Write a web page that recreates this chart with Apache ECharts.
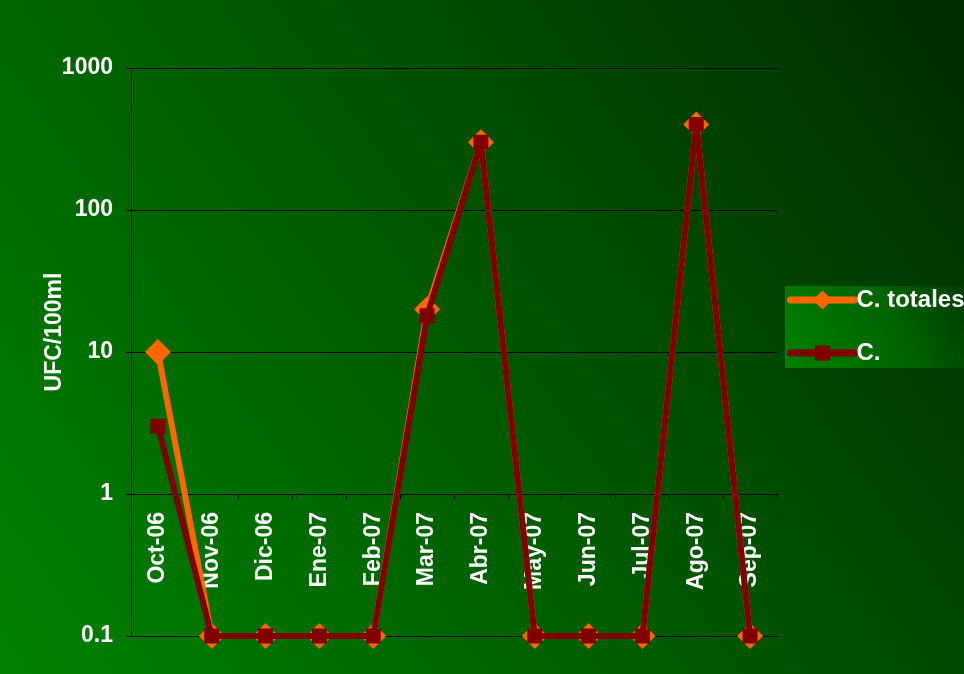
<!DOCTYPE html>
<html>
<head>
<meta charset="utf-8">
<script src="https://cdn.jsdelivr.net/npm/echarts@6/dist/echarts.min.js"></script>
<style>
html,body{margin:0;padding:0;background:#004000;}
#chart{width:964px;height:674px;}
</style>
</head>
<body>
<div id="chart"></div>
<script>
const categories = ['Oct-06','Nov-06','Dic-06','Ene-07','Feb-07','Mar-07','Abr-07','May-07','Jun-07','Jul-07','Ago-07','Sep-07'];
const totales = [10, 0.1, 0.1, 0.1, 0.1, 20, 300, 0.1, 0.1, 0.1, 400, 0.1];
const fecales = [3, 0.1, 0.1, 0.1, 0.1, 18, 300, 0.1, 0.1, 0.1, 400, 0.1];
const seriesNames = ['C. totales', 'C.'];
const yAxisName = 'UFC/100ml';

const chart = echarts.init(document.getElementById('chart'), null, {renderer: 'canvas'});
const font = 'Liberation Sans, Arial, sans-serif';
const legendText = {color: '#ffffff', fontSize: 24, fontWeight: 'bold', fontFamily: font, padding: [0,0,0,-3]};
chart.setOption({
  animation: false,
  backgroundColor: new echarts.graphic.LinearGradient(0, 1, 1, 0, [
    {offset: 0, color: '#008200'},
    {offset: 0.5, color: '#005800'},
    {offset: 1, color: '#002c00'}
  ]),
  graphic: [{
    type: 'rect', left: 785, top: 286, z: -1,
    shape: {width: 179, height: 82},
    style: {fill: new echarts.graphic.LinearGradient(0, 1, 1, 0, [
      {offset: 0, color: '#008000'},
      {offset: 0.6, color: '#006400'},
      {offset: 1, color: '#003c00'}
    ])}
  }],
  grid: {left: 131, right: 187, top: 68, bottom: 38, containLabel: false},
  legend: [
    {
      left: 787, top: 288,
      padding: 0,
      itemWidth: 64, itemHeight: 24,
      lineStyle: {width: 7, cap: 'round'},
      textStyle: legendText,
      data: [seriesNames[0]]
    },
    {
      left: 787, top: 341,
      padding: 0,
      itemWidth: 64, itemHeight: 19,
      lineStyle: {width: 7, cap: 'round'},
      textStyle: legendText,
      data: [seriesNames[1]]
    }
  ],
  xAxis: {
    type: 'category',
    data: categories,
    boundaryGap: true,
    position: 'bottom',
    offset: -142,
    axisLine: {show: true, lineStyle: {color: '#000000', width: 1}},
    axisTick: {show: true, length: 5, lineStyle: {color: '#000000'}},
    axisLabel: {rotate: 90, margin: 18, color: '#ffffff', fontSize: 23, fontWeight: 'bold', fontFamily: font},
    splitLine: {show: false}
  },
  yAxis: {
    type: 'log',
    logBase: 10,
    min: 0.1,
    max: 1000,
    name: yAxisName,
    nameLocation: 'middle',
    nameGap: 65,
    nameRotate: 90,
    nameMoveOverlap: false,
    nameTextStyle: {color: '#ffffff', fontSize: 23, fontWeight: 'bold', fontFamily: font, padding: [0, 0, 0, 40]},
    axisLine: {show: true, lineStyle: {color: '#000000', width: 1}},
    axisTick: {show: true, length: 5, lineStyle: {color: '#000000'}},
    axisLabel: {color: '#ffffff', fontSize: 23, fontWeight: 'bold', fontFamily: font, margin: 18,
      formatter: function (v) { return String(Math.round(v * 10) / 10); }},
    splitLine: {show: true, lineStyle: {color: '#000000', width: 1}}
  },
  series: [
    {
      name: seriesNames[0], type: 'line', data: totales,
      symbol: 'diamond', symbolSize: 26,
      lineStyle: {color: '#ff6600', width: 6},
      itemStyle: {color: '#ff6600'},
      z: 2
    },
    {
      name: seriesNames[1], type: 'line', data: fecales,
      symbol: 'rect', symbolSize: 15,
      lineStyle: {color: '#800000', width: 6},
      itemStyle: {color: '#800000'},
      z: 3
    }
  ]
});
</script>
</body>
</html>
